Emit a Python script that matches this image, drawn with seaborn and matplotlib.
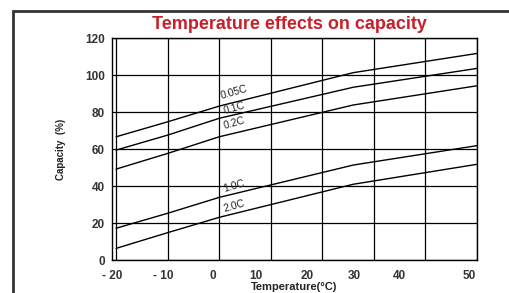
import numpy as np
import pandas as pd
import seaborn as sns
import matplotlib.pyplot as plt
from matplotlib.patches import Rectangle

# ---------- data ----------
temps = [-20, -10, 0, 26, 50]
cap_005c = [66.7, 74.8, 83.3, 101.4, 111.8]
cap_01c = [59.5, 67.6, 76.7, 93.5, 103.7]
cap_02c = [49.2, 57.7, 66.7, 83.9, 94.3]
cap_10c = [17.2, 25.3, 33.9, 51.4, 61.9]
cap_20c = [6.3, 14.8, 23.1, 41.0, 51.8]

rates = ['0.05C', '0.1C', '0.2C', '1.0C', '2.0C']
series = [cap_005c, cap_01c, cap_02c, cap_10c, cap_20c]
label_y = [90.6, 82.4, 74.2, 40.2, 29.0]

grid_x = [-20, -10, 0, 10, 20, 30, 40, 50]
xtick_labels = ['- 20', '- 10', '0', '10', '20', '30', '40', '50']
xtick_pos = [-20.8, -10.8, -1.2, 7.1, 17.1, 26.2, 35.0, 48.5]
yticks = [0, 20, 40, 60, 80, 100, 120]

df = pd.DataFrame({
    'temp': np.tile(temps, len(rates)),
    'capacity': np.concatenate(series),
    'rate': np.repeat(rates, len(temps)),
})

# ---------- plot ----------
sns.set_style('white')
plt.rcParams['font.family'] = ['Liberation Sans', 'DejaVu Sans']

fig = plt.figure(figsize=(5.1, 2.93), dpi=100)
ax = fig.add_axes([0.2196, 0.1126, 0.7157, 0.7567])

sns.lineplot(data=df, x='temp', y='capacity', hue='rate',
             palette=['black'] * len(rates), legend=False,
             linewidth=1.0, ax=ax)

ax.set_xlim(-20, 50)
ax.set_ylim(0, 120)
ax.set_xticks(grid_x)
ax.set_xticklabels([])
ax.set_xticks(xtick_pos, minor=True)
ax.set_xticklabels(xtick_labels, minor=True, fontsize=8.5, fontweight='bold', color='#333333')
ax.set_yticks(yticks)
ax.set_yticklabels([str(v) for v in yticks], fontsize=8.5, fontweight='bold', color='#333333')
ax.tick_params(axis='x', which='both', length=0, pad=7)
ax.tick_params(axis='y', length=0, pad=5)
ax.grid(True, color='black', linewidth=0.9)
for s in ax.spines.values():
    s.set_color('black')
    s.set_linewidth(1.0)

ax.set_xlabel('Temperature(°C)', fontsize=8, fontweight='bold', color='#222222', labelpad=0.5)
ax.set_ylabel('Capacity  (%)', fontsize=7, fontweight='bold', color='#222222', labelpad=14)

for r, yv in zip(rates, label_y):
    ax.text(2.9, yv, r, fontsize=7.5, rotation=16, ha='center', va='center', color='#222222')

fig.text(0.568, 0.918, 'Temperature effects on capacity', fontsize=13, fontweight='bold',
         color='#c8202a', ha='center', va='center')

# outer frame
fig.patches.append(Rectangle((13 / 510, -0.1), 1.2, 1.1 - 11 / 293, transform=fig.transFigure,
                             fill=False, edgecolor='#333333', linewidth=2))

plt.savefig('out.png', dpi=100)
